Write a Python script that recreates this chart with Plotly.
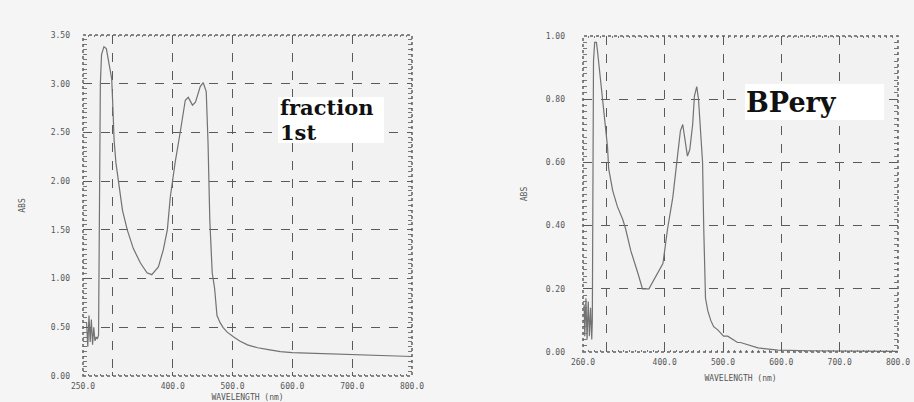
import plotly.graph_objects as go

# ---- Spectrum 1: fraction 1st (absorbance vs wavelength, nm) ----
frac_wl = [256, 258, 260, 262, 264, 266, 268, 270, 272, 274, 276, 277, 279, 281, 285,
           289, 292, 295, 298, 300, 302, 305, 310, 316, 324, 334, 346, 357, 365, 376,
           384, 391, 396, 404, 413, 421, 426, 433, 438, 446, 451, 456, 459, 462, 466,
           470, 474, 479, 484, 491, 502, 512, 525, 542, 560, 580, 600, 650, 700, 750,
           800]
frac_abs = [0.55, 0.30, 0.62, 0.35, 0.58, 0.32, 0.50, 0.36, 0.40, 0.38, 0.42, 1.60, 3.00, 3.30, 3.38,
            3.36, 3.25, 3.14, 3.05, 2.75, 2.42, 2.19, 1.94, 1.70, 1.50, 1.31, 1.16, 1.06, 1.04, 1.12,
            1.29, 1.50, 1.84, 2.19, 2.52, 2.83, 2.86, 2.78, 2.81, 2.97, 3.01, 2.92, 2.40, 1.60, 1.06,
            0.90, 0.62, 0.55, 0.50, 0.45, 0.40, 0.36, 0.32, 0.29, 0.27, 0.25, 0.24, 0.23, 0.22, 0.21,
            0.20]

# ---- Spectrum 2: BPery ----
bp_wl = [262, 263, 265, 267, 269, 271, 273, 275, 276, 277, 278, 280, 283, 285, 290,
         295, 302, 304, 311, 319, 328, 333, 342, 354, 362, 373, 385, 397, 405, 414,
         422, 427, 431, 436, 439, 443, 448, 451, 455, 458, 462, 465, 467, 470, 474,
         479, 484, 491, 501, 508, 525, 530, 560, 594, 650, 700, 750, 800]
bp_abs = [0.15, 0.05, 0.17, 0.04, 0.16, 0.05, 0.14, 0.04, 0.10, 0.50, 0.92, 0.98, 0.98, 0.95, 0.86,
          0.78, 0.65, 0.58, 0.51, 0.46, 0.42, 0.39, 0.32, 0.25, 0.20, 0.20, 0.24, 0.28, 0.39, 0.49,
          0.62, 0.70, 0.72, 0.66, 0.62, 0.64, 0.72, 0.81, 0.84, 0.80, 0.70, 0.60, 0.39, 0.17, 0.13,
          0.10, 0.08, 0.07, 0.05, 0.05, 0.03, 0.03, 0.013, 0.006, 0.004, 0.003, 0.003, 0.002]

# ---- Axis ticks ----
frac_xticks = [250, 300, 400, 500, 600, 700, 800]
frac_xtext = ["250.0", "", "400.0", "500.0", "600.0", "700.0", "800.0"]
frac_yticks = [0, 0.5, 1.0, 1.5, 2.0, 2.5, 3.0, 3.5]
frac_ytext = ["0.00", "0.50", "1.00", "1.50", "2.00", "2.50", "3.00", "3.50"]

bp_xticks = [260, 300, 400, 500, 600, 700, 800]
bp_xtext = ["260.0", "", "400.0", "500.0", "600.0", "700.0", "800.0"]
bp_yticks = [0, 0.2, 0.4, 0.6, 0.8, 1.0]
bp_ytext = ["0.00", "0.20", "0.40", "0.60", "0.80", "1.00"]

W, H = 914, 402
LINE = "#727272"
GRID = "#5a5a5a"
TICKFONT = dict(family="DejaVu Sans Mono", size=8, color="#555555")

fig = go.Figure()
fig.add_trace(go.Scatter(x=frac_wl, y=frac_abs, mode="lines",
                         line=dict(color=LINE, width=1.2), xaxis="x", yaxis="y",
                         showlegend=False, hoverinfo="skip"))
fig.add_trace(go.Scatter(x=bp_wl, y=bp_abs, mode="lines",
                         line=dict(color=LINE, width=1.2), xaxis="x2", yaxis="y2",
                         showlegend=False, hoverinfo="skip"))


def xaxis(domain, rng, vals, text, anchor):
    return dict(domain=domain, range=rng, anchor=anchor, tickvals=vals, ticktext=text,
                automargin=False,
                showgrid=True, gridcolor=GRID, griddash="dash", gridwidth=1,
                zeroline=False, showline=False, ticks="inside", ticklen=4,
                tickcolor=GRID, mirror="allticks",
                minor=dict(dtick=10, ticks="inside", ticklen=2, tickcolor="#777777"),
                tickfont=TICKFONT, ticklabelstandoff=4,
                title=dict(text="WAVELENGTH (nm)", font=TICKFONT, standoff=9))


def yaxis(domain, rng, vals, text, anchor, minor, lab_off, title_off):
    return dict(domain=domain, range=rng, anchor=anchor, tickvals=vals, ticktext=text,
                automargin=False,
                showgrid=True, gridcolor=GRID, griddash="dash", gridwidth=1,
                zeroline=False, showline=False, ticks="inside", ticklen=5,
                tickcolor=GRID, mirror="allticks",
                minor=dict(dtick=minor, ticks="inside", ticklen=4, tickcolor="#777777"),
                tickfont=TICKFONT, ticklabelstandoff=lab_off,
                title=dict(text="ABS", font=TICKFONT, standoff=title_off))


fig.update_layout(
    width=W, height=H,
    margin=dict(l=0, r=0, t=0, b=0, autoexpand=False),
    paper_bgcolor="#f5f5f5",
    plot_bgcolor="#f2f2f2",
    xaxis=xaxis([83 / W, 412 / W], [250, 800], frac_xticks, frac_xtext, "y"),
    yaxis=yaxis([1 - 376 / H, 1 - 35 / H], [0, 3.5], frac_yticks, frac_ytext, "x",
                0.05, 12, 23),
    xaxis2=xaxis([583 / W, 898 / W], [260, 800], bp_xticks, bp_xtext, "y2"),
    yaxis2=yaxis([1 - 352 / H, 1 - 36 / H], [0, 1.0], bp_yticks, bp_ytext, "x2",
                 0.02, 17, 16),
)

# dotted frame around each plot area
for xr, yr in (("x domain", "y domain"), ("x2 domain", "y2 domain")):
    fig.add_shape(type="rect", xref=xr, yref=yr, x0=0, x1=1, y0=0, y1=1,
                  line=dict(color="#606060", width=1.5, dash="dot"))

# white label boxes
fig.add_shape(type="rect", xref="paper", yref="paper",
              x0=278 / W, x1=384 / W, y0=1 - 143 / H, y1=1 - 97 / H,
              fillcolor="#ffffff", line=dict(width=0), layer="above")
fig.add_shape(type="rect", xref="paper", yref="paper",
              x0=745 / W, x1=884 / W, y0=1 - 120 / H, y1=1 - 84 / H,
              fillcolor="#ffffff", line=dict(width=0), layer="above")

LABEL = dict(family="DejaVu Serif", color="#111111")
for txt, yc in (("<b>fraction</b>", 107), ("<b>1st</b>", 132)):
    fig.add_annotation(xref="paper", yref="paper", x=279 / W, y=1 - yc / H,
                       xanchor="left", yanchor="middle", text=txt, showarrow=False,
                       borderpad=0, font=dict(size=21, **LABEL))
fig.add_annotation(xref="paper", yref="paper", x=744 / W, y=1 - 102 / H,
                   xanchor="left", yanchor="middle", text="<b>BPery</b>", showarrow=False,
                   font=dict(size=27, **LABEL))

fig.write_html("out.html")
